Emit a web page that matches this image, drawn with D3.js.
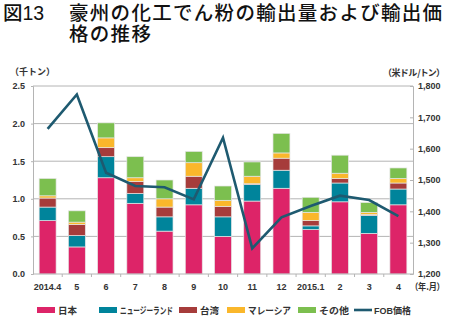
<!DOCTYPE html>
<html>
<head>
<meta charset="utf-8">
<script src="https://cdn.jsdelivr.net/npm/d3@7"></script>
<style>
  body { margin: 0; background: #fff; }
  text { font-family: "Liberation Sans", Arial, "Noto Sans CJK JP", sans-serif; }
  .jp { font-family: "Noto Sans CJK JP", sans-serif; }
  .palt { font-feature-settings: "palt"; }
</style>
</head>
<body>
<script>

const w = 450;
const h = 321;

// monthly export volume (thousand t) by destination, FOB price (USD/t)
const months = ["2014.4", "5", "6", "7", "8", "9", "10", "11", "12", "2015.1", "2", "3", "4"];
const japan      = [0.71, 0.36, 1.28, 0.94, 0.57, 0.92, 0.50, 0.97, 1.14, 0.59, 0.96, 0.54, 0.92];
const newZealand = [0.18, 0.15, 0.28, 0.13, 0.19, 0.22, 0.26, 0.22, 0.24, 0.05, 0.25, 0.24, 0.21];
const taiwan     = [0.12, 0.15, 0.12, 0.16, 0.13, 0.16, 0.14, 0.01, 0.16, 0.07, 0.06, 0.01, 0.08];
const malaysia   = [0.03, 0.03, 0.13, 0.05, 0.11, 0.18, 0.08, 0.10, 0.07, 0.11, 0.07, 0.03, 0.06];
const others     = [0.23, 0.15, 0.20, 0.28, 0.25, 0.15, 0.19, 0.19, 0.26, 0.20, 0.24, 0.13, 0.14];
const fobPrice   = [1663, 1773, 1523, 1481, 1477, 1438, 1635, 1282, 1381, 1417, 1450, 1436, 1385];

const seriesKeys = ["japan", "newZealand", "taiwan", "malaysia", "others"];
const seriesNames = ["日本", "ニュージーランド", "台湾", "マレーシア", "その他"];
const colors = ["#dd2468", "#00849b", "#a63c3b", "#fab72b", "#7cbf4f"];
const volumeTicks = [0, 0.5, 1.0, 1.5, 2.0, 2.5];
const priceTicks = [1200, 1300, 1400, 1500, 1600, 1700, 1800];

const margin = { top: 86, right: 37, bottom: 47, left: 33 };

var rows = months.map(function (m, i) {
    return {
        month: m,
        japan: japan[i],
        newZealand: newZealand[i],
        taiwan: taiwan[i],
        malaysia: malaysia[i],
        others: others[i],
        price: fobPrice[i]
    };
});

let svg = d3.select("body")
    .append("svg")
    .attr("width", w)
    .attr("height", h)

var x = d3.scaleBand()
    .domain(months)
    .range([margin.left, w - margin.right])
    .paddingInner(0.42)
    .paddingOuter(0.21);

var yL = d3.scaleLinear().domain([0, 2.5]).range([h - margin.bottom, margin.top]);
var yR = d3.scaleLinear().domain([1200, 1800]).range([h - margin.bottom, margin.top]);

// title
var title = svg.append("g").attr("class", "jp").style("font-weight", "500").attr("fill", "#111");
title.append("text").attr("x", 3).attr("y", 20).style("font-size", "19.5px").text("図13");
title.append("text").attr("x", 69).attr("y", 20).style("font-size", "19.5px").style("letter-spacing", "1.3px")
    .text("豪州の化工でん粉の輸出量および輸出価");
title.append("text").attr("x", 69).attr("y", 41).style("font-size", "19.5px").style("letter-spacing", "1.3px")
    .text("格の推移");

// gridlines
svg.append("g")
    .selectAll("line")
    .data(volumeTicks.slice(1))
    .enter()
    .append("line")
    .attr("x1", margin.left)
    .attr("x2", w - margin.right)
    .attr("y1", d => yL(d))
    .attr("y2", d => yL(d))
    .attr("stroke", "#b4b4b4")
    .attr("stroke-width", 1);

// left axis
var left = d3.axisLeft(yL).tickValues(volumeTicks).tickFormat(d3.format(".1f")).tickSize(2).tickPadding(6);
svg.append("g")
    .attr("transform", "translate(" + margin.left + ",0)")
    .call(left)
    .call(g => g.select(".domain").attr("stroke", "#b4b4b4"))
    .call(g => g.selectAll(".tick line").attr("stroke", "#b4b4b4"))
    .call(g => g.selectAll("text").attr("fill", "#333").style("font-size", "9px").style("font-weight", "bold")
        .style("font-family", "Liberation Sans, Arial, sans-serif"));

// right axis
var right = d3.axisRight(yR).tickValues(priceTicks).tickFormat(d3.format(",")).tickSize(-3).tickPadding(5);
svg.append("g")
    .attr("transform", "translate(" + (w - margin.right) + ",0)")
    .call(right)
    .call(g => g.select(".domain").attr("stroke", "#b4b4b4"))
    .call(g => g.selectAll(".tick line").attr("stroke", "#b4b4b4"))
    .call(g => g.selectAll("text").attr("fill", "#333").style("font-size", "9px").style("font-weight", "bold")
        .style("font-family", "Liberation Sans, Arial, sans-serif"));

// unit labels
svg.append("text").attr("class", "jp").attr("x", 10).attr("y", 75)
    .style("font-size", "9px").style("font-weight", "bold").attr("fill", "#333").text("（千トン）");
svg.append("text").attr("class", "jp palt").attr("x", 441).attr("y", 76).attr("text-anchor", "end")
    .style("font-size", "9px").style("font-weight", "bold").attr("fill", "#333").text("（米ドル/トン）");

// stacked bars
var stacked = d3.stack().keys(seriesKeys)(rows);

svg.append("g")
    .selectAll("g")
    .data(stacked)
    .enter()
    .append("g")
    .attr("fill", (d, i) => colors[i])
    .selectAll("rect")
    .data(d => d)
    .enter()
    .append("rect")
    .attr("x", d => x(d.data.month))
    .attr("width", x.bandwidth())
    .attr("y", d => yL(d[1]))
    .attr("height", d => yL(d[0]) - yL(d[1]))
    .attr("stroke", "#e6e6e6")
    .attr("stroke-width", 0.7);

// bottom axis
var step = x.step();
svg.append("line")
    .attr("x1", margin.left).attr("x2", w - margin.right)
    .attr("y1", yL(0)).attr("y2", yL(0))
    .attr("stroke", "#b4b4b4");

svg.append("g")
    .selectAll("line")
    .data(months.slice(1))
    .enter()
    .append("line")
    .attr("x1", d => x(d) - step * 0.21)
    .attr("x2", d => x(d) - step * 0.21)
    .attr("y1", yL(0))
    .attr("y2", yL(0) + 3)
    .attr("stroke", "#b4b4b4");

svg.append("g")
    .selectAll("text")
    .data(months)
    .enter()
    .append("text")
    .attr("x", d => x(d) + x.bandwidth() / 2)
    .attr("y", 290)
    .attr("text-anchor", "middle")
    .attr("fill", "#333")
    .style("font-size", "9px")
    .style("font-weight", "bold")
    .text(d => d);

svg.append("text").attr("class", "jp palt").attr("x", 414).attr("y", 290)
    .attr("textLength", 27)
    .attr("lengthAdjust", "spacingAndGlyphs")
    .style("font-size", "9px").style("font-weight", "bold").attr("fill", "#333").text("（年.月）");

// FOB price line
var line = d3.line()
    .x(d => x(d.month) + x.bandwidth() / 2)
    .y(d => yR(d.price));

svg.append("path")
    .datum(rows)
    .attr("d", line)
    .attr("fill", "none")
    .attr("stroke", "#1e5a70")
    .attr("stroke-width", 2.6)
    .attr("stroke-linejoin", "miter");

// legend: swatch position and label width per entry
var legendX = [37, 99, 179, 227, 298];
var legendW = [19, 53, 19, 43, 30];
var legend = svg.append("g").attr("class", "jp");
seriesNames.forEach(function (name, i) {
    legend.append("rect")
        .attr("x", legendX[i]).attr("y", 307)
        .attr("width", 18).attr("height", 6)
        .attr("fill", colors[i]);
    legend.append("text")
        .attr("x", legendX[i] + 21).attr("y", 313.5)
        .attr("textLength", legendW[i])
        .attr("lengthAdjust", "spacingAndGlyphs")
        .style("font-size", "9.5px").style("font-weight", "bold").attr("fill", "#333")
        .text(name);
});
legend.append("line")
    .attr("x1", 354).attr("x2", 372).attr("y1", 310).attr("y2", 310)
    .attr("stroke", "#1e5a70").attr("stroke-width", 2.6);
legend.append("text")
    .attr("x", 374).attr("y", 313.5)
    .attr("textLength", 37)
    .attr("lengthAdjust", "spacingAndGlyphs")
    .style("font-size", "9.5px").style("font-weight", "bold").attr("fill", "#333")
    .text("FOB価格");

</script>
</body>
</html>
